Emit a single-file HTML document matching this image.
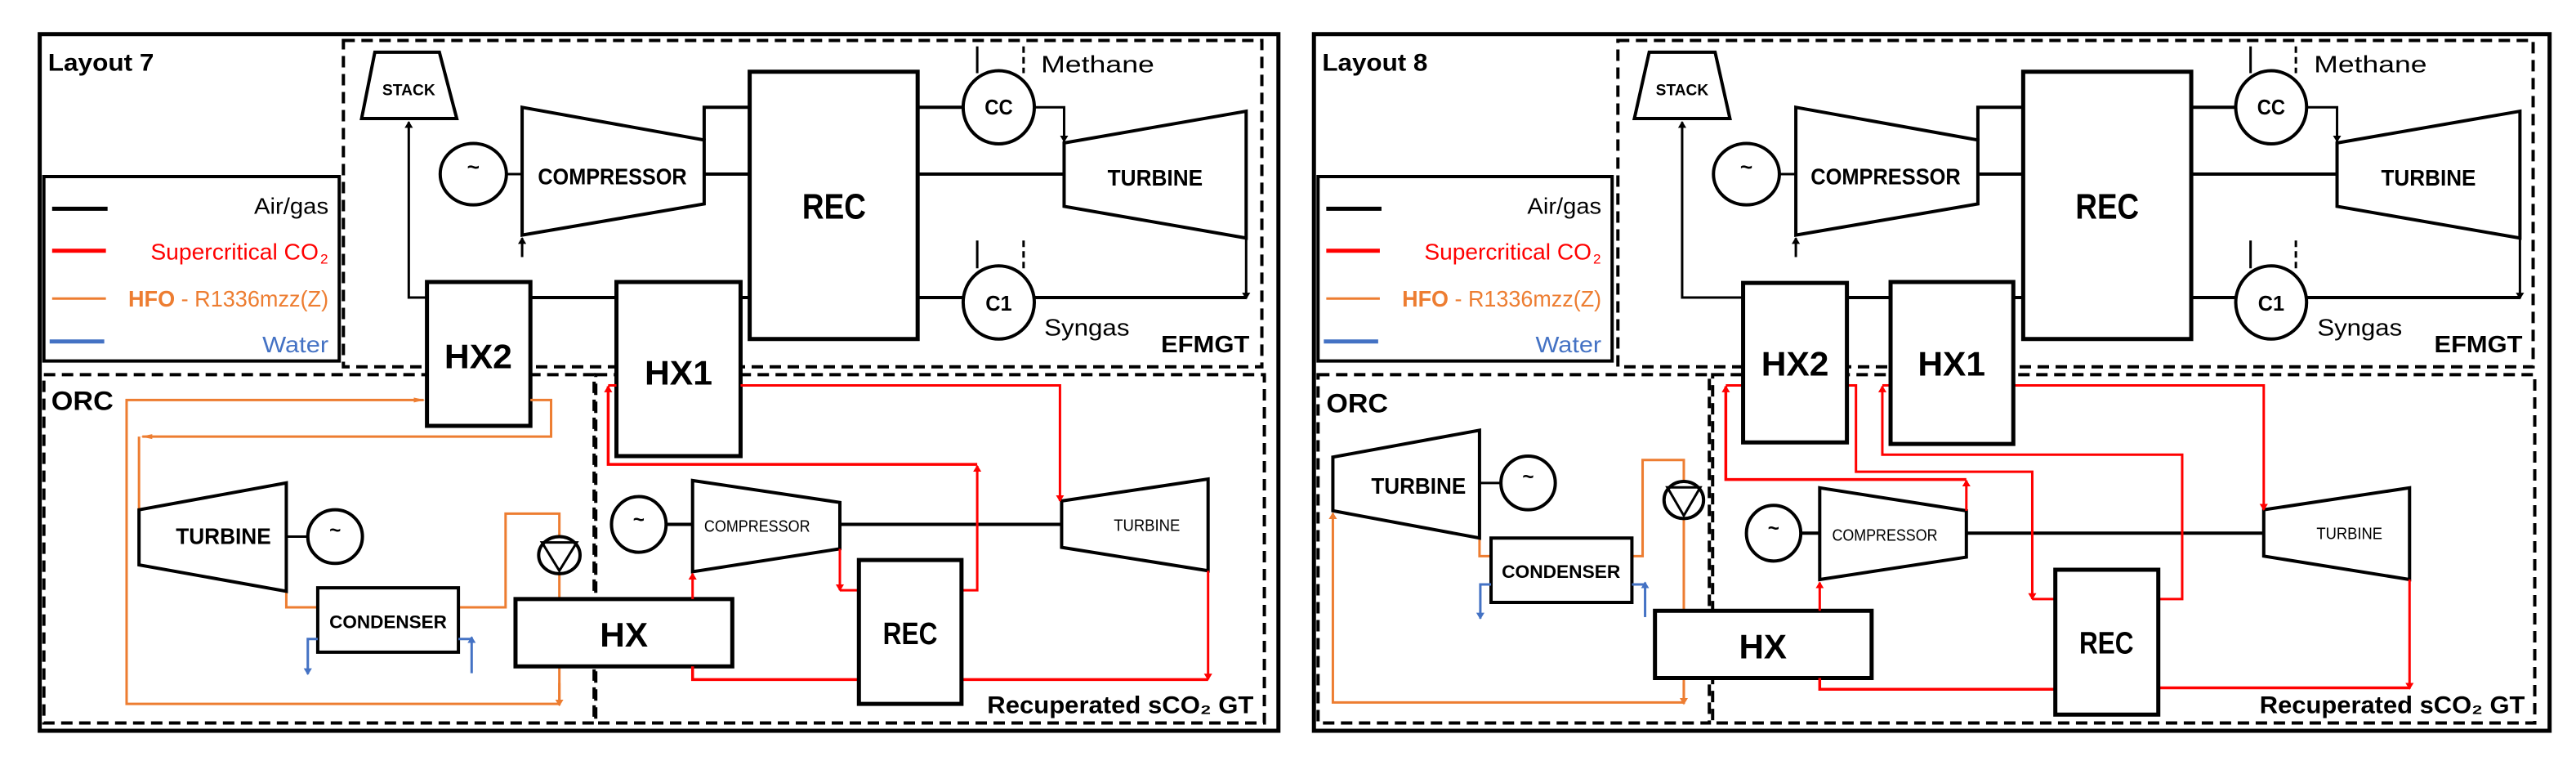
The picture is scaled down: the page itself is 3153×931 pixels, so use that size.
<!DOCTYPE html>
<html><head><meta charset="utf-8"><style>
html,body{margin:0;padding:0;background:#fff;}
svg{display:block;}
text{font-family:"Liberation Sans Narrow","Liberation Sans",sans-serif;}
.b{font-weight:bold;}
</style></head><body>
<svg width="3153" height="931" viewBox="0 0 3153 931" xmlns="http://www.w3.org/2000/svg">
<defs>
<marker id="ak" markerWidth="14" markerHeight="14" refX="12" refY="7" orient="auto" markerUnits="userSpaceOnUse"><path d="M0,2 L14,7 L0,12 z" fill="#000"/></marker>
<marker id="ar" markerWidth="14" markerHeight="14" refX="12" refY="7" orient="auto" markerUnits="userSpaceOnUse"><path d="M0,2 L14,7 L0,12 z" fill="#f00"/></marker>
<marker id="ao" markerWidth="14" markerHeight="14" refX="12" refY="7" orient="auto" markerUnits="userSpaceOnUse"><path d="M0,2 L14,7 L0,12 z" fill="#ed7d31"/></marker>
<marker id="ab" markerWidth="14" markerHeight="14" refX="12" refY="7" orient="auto" markerUnits="userSpaceOnUse"><path d="M0,2 L14,7 L0,12 z" fill="#4472c4"/></marker>
</defs>
<rect width="3153" height="931" fill="#fff"/>

<!-- ================= LEFT PANEL ================= -->
<g transform="scale(1.0128,0.5968)" fill="none" stroke-linejoin="miter">
 <g vector-effect="non-scaling-stroke">
 <rect x="48" y="70" width="1497" height="1428" stroke="#000" stroke-width="5" vector-effect="non-scaling-stroke"/>
 <rect x="415" y="83" width="1110" height="669" stroke="#000" stroke-width="4" stroke-dasharray="14,8" vector-effect="non-scaling-stroke"/>
 <rect x="53" y="768" width="665" height="714" stroke="#000" stroke-width="4" stroke-dasharray="14,8" vector-effect="non-scaling-stroke"/>
 <rect x="720" y="768" width="808" height="714" stroke="#000" stroke-width="4" stroke-dasharray="14,8" vector-effect="non-scaling-stroke"/>
 <rect x="53" y="362" width="357" height="378" fill="#fff" stroke="#000" stroke-width="4" vector-effect="non-scaling-stroke"/>
 <path d="M63,428 H130" stroke="#000" stroke-width="5" vector-effect="non-scaling-stroke"/>
 <path d="M63,514 H128" stroke="#f00" stroke-width="5" vector-effect="non-scaling-stroke"/>
 <path d="M63,612 H128" stroke="#ed7d31" stroke-width="3" vector-effect="non-scaling-stroke"/>
 <path d="M60,700 H126" stroke="#4472c4" stroke-width="5" vector-effect="non-scaling-stroke"/>

 <!-- EFMGT -->
 <polygon points="453,107 531,107 552,243 437,243" stroke="#000" stroke-width="4" vector-effect="non-scaling-stroke"/>
 <path d="M516,610 H494 V250" stroke="#000" stroke-width="3" marker-end="url(#ak)" vector-effect="non-scaling-stroke"/>
 <ellipse cx="572" cy="357" rx="40" ry="63" stroke="#000" stroke-width="4" vector-effect="non-scaling-stroke"/>
 <path d="M612,357 H631" stroke="#000" stroke-width="3" vector-effect="non-scaling-stroke"/>
 <polygon points="631,220 851,287 851,418 631,482" stroke="#000" stroke-width="4" vector-effect="non-scaling-stroke"/>
 <path d="M631,527 V488" stroke="#000" stroke-width="3" marker-end="url(#ak)" vector-effect="non-scaling-stroke"/>
 <path d="M851,287 V220 H906 M851,357 H906" stroke="#000" stroke-width="4" vector-effect="non-scaling-stroke"/>
 <rect x="906" y="147" width="203" height="548" stroke="#000" stroke-width="5" vector-effect="non-scaling-stroke"/>
 <path d="M1109,220 H1165 M1109,357 H1286 M1165,610 H1109 M906,610 H895 M641,610 H745" stroke="#000" stroke-width="4" vector-effect="non-scaling-stroke"/>
 <ellipse cx="1207" cy="220" rx="43" ry="75" stroke="#000" stroke-width="4" vector-effect="non-scaling-stroke"/>
 <path d="M1181,95 V150 M1181,493 V550" stroke="#000" stroke-width="3" vector-effect="non-scaling-stroke"/>
 <path d="M1237,95 V150 M1237,493 V550" stroke="#000" stroke-width="3" stroke-dasharray="8,5" vector-effect="non-scaling-stroke"/>
 <path d="M1250,220 H1286 V290" stroke="#000" stroke-width="3" marker-end="url(#ak)" vector-effect="non-scaling-stroke"/>
 <polygon points="1286,293 1506,228 1506,488 1286,423" stroke="#000" stroke-width="4" vector-effect="non-scaling-stroke"/>
 <path d="M1506,488 V612" stroke="#000" stroke-width="3" marker-end="url(#ak)" vector-effect="non-scaling-stroke"/>
 <path d="M1506,610 H1250" stroke="#000" stroke-width="4" vector-effect="non-scaling-stroke"/>
 <ellipse cx="1207" cy="620" rx="43" ry="75" stroke="#000" stroke-width="4" vector-effect="non-scaling-stroke"/>
 <rect x="516" y="578" width="125" height="295" fill="#fff" stroke="#000" stroke-width="5" vector-effect="non-scaling-stroke"/>
 <rect x="745" y="578" width="150" height="357" fill="#fff" stroke="#000" stroke-width="5" vector-effect="non-scaling-stroke"/>

 <!-- ORC -->
 <path d="M676,1443 H153 V820 H512" stroke="#ed7d31" stroke-width="3" marker-end="url(#ao)" vector-effect="non-scaling-stroke"/>
 <path d="M641,820 H666 V895 H172" stroke="#ed7d31" stroke-width="3" marker-end="url(#ao)" vector-effect="non-scaling-stroke"/>
 <path d="M168,895 V1045" stroke="#ed7d31" stroke-width="3" vector-effect="non-scaling-stroke"/>
 <path d="M346,1212 V1245 H384 M554,1245 H611 V1053 H676 V1100 M676,1175 V1228 M676,1367 V1443" stroke="#ed7d31" stroke-width="3" vector-effect="non-scaling-stroke"/>
 <path d="M676,1400 V1446" stroke="#ed7d31" stroke-width="3" marker-end="url(#ao)" vector-effect="non-scaling-stroke"/>
 <polygon points="168,1045 346,990 346,1212 168,1158" stroke="#000" stroke-width="4" vector-effect="non-scaling-stroke"/>
 <path d="M346,1100 H372" stroke="#000" stroke-width="3" vector-effect="non-scaling-stroke"/>
 <ellipse cx="405" cy="1100" rx="33" ry="55" stroke="#000" stroke-width="4" vector-effect="non-scaling-stroke"/>
 <rect x="384" y="1205" width="170" height="132" stroke="#000" stroke-width="4" vector-effect="non-scaling-stroke"/>
 <ellipse cx="676" cy="1138" rx="25" ry="38" stroke="#000" stroke-width="4" vector-effect="non-scaling-stroke"/>
 <polygon points="655,1112 697,1112 676,1170" stroke="#000" stroke-width="3" vector-effect="non-scaling-stroke"/>
 <path d="M384,1310 H372 V1382" stroke="#4472c4" stroke-width="3" marker-end="url(#ab)" vector-effect="non-scaling-stroke"/>
 <path d="M570,1380 V1306" stroke="#4472c4" stroke-width="3" marker-end="url(#ab)" vector-effect="non-scaling-stroke"/>
 <path d="M570,1310 H554" stroke="#4472c4" stroke-width="3" vector-effect="non-scaling-stroke"/>
 <rect x="623" y="1228" width="262" height="138" fill="#fff" stroke="#000" stroke-width="5" vector-effect="non-scaling-stroke"/>

 <!-- sCO2 -->
 <ellipse cx="772" cy="1075" rx="33" ry="57" stroke="#000" stroke-width="4" vector-effect="non-scaling-stroke"/>
 <path d="M805,1075 H837 M1015,1075 H1283" stroke="#000" stroke-width="4" vector-effect="non-scaling-stroke"/>
 <polygon points="837,985 1015,1030 1015,1125 837,1172" stroke="#000" stroke-width="4" vector-effect="non-scaling-stroke"/>
 <polygon points="1283,1027 1460,982 1460,1170 1283,1122" stroke="#000" stroke-width="4" vector-effect="non-scaling-stroke"/>
 <path d="M837,1228 V1176" stroke="#f00" stroke-width="3" marker-end="url(#ar)" vector-effect="non-scaling-stroke"/>
 <path d="M837,1366 V1393 H1038 M1162,1393 H1460" stroke="#f00" stroke-width="3.5" vector-effect="non-scaling-stroke"/>
 <path d="M1460,1170 V1393" stroke="#f00" stroke-width="3" marker-end="url(#ar)" vector-effect="non-scaling-stroke"/>
 <path d="M1015,1125 V1210" stroke="#f00" stroke-width="3" marker-end="url(#ar)" vector-effect="non-scaling-stroke"/>
 <path d="M1015,1210 H1038" stroke="#f00" stroke-width="3" vector-effect="non-scaling-stroke"/>
 <path d="M1162,1210 H1181 V955" stroke="#f00" stroke-width="3" marker-end="url(#ar)" vector-effect="non-scaling-stroke"/>
 <path d="M1181,952 H735 V792" stroke="#f00" stroke-width="3.5" marker-end="url(#ar)" vector-effect="non-scaling-stroke"/>
 <path d="M735,790 H745" stroke="#f00" stroke-width="3" vector-effect="non-scaling-stroke"/>
 <path d="M895,790 H1281 V1027" stroke="#f00" stroke-width="3" marker-end="url(#ar)" vector-effect="non-scaling-stroke"/>
 <rect x="1038" y="1148" width="124" height="295" fill="#fff" stroke="#000" stroke-width="5" vector-effect="non-scaling-stroke"/>
 </g>

 <g fill="#000" stroke="none">
  <text class="b" transform="translate(58,145) scale(1,1.6756)" font-size="30" textLength="128" lengthAdjust="spacingAndGlyphs">Layout 7</text>
  <text transform="translate(397,438) scale(1,1.6756)" font-size="28" text-anchor="end" textLength="90" lengthAdjust="spacingAndGlyphs">Air/gas</text>
  <text transform="translate(385,532) scale(1,1.6756)" font-size="28" text-anchor="end" fill="#f00" textLength="203" lengthAdjust="spacingAndGlyphs">Supercritical CO</text>
  <text transform="translate(387,540) scale(1,1.6756)" font-size="17" fill="#f00">2</text>
  <text transform="translate(397,628) scale(1,1.6756)" font-size="28" text-anchor="end" fill="#ed7d31" textLength="242" lengthAdjust="spacingAndGlyphs"><tspan font-weight="bold">HFO</tspan> - R1336mzz(Z)</text>
  <text transform="translate(397,722) scale(1,1.6756)" font-size="28" text-anchor="end" fill="#4472c4" textLength="80" lengthAdjust="spacingAndGlyphs">Water</text>
  <text class="b" transform="translate(494,195) scale(1,1.6756)" font-size="19" text-anchor="middle" textLength="64" lengthAdjust="spacingAndGlyphs">STACK</text>
  <text class="b" transform="translate(572,357) scale(1,1.6756)" font-size="26" text-anchor="middle">~</text>
  <text class="b" transform="translate(740,378) scale(1,1.6756)" font-size="28" text-anchor="middle" textLength="180" lengthAdjust="spacingAndGlyphs">COMPRESSOR</text>
  <text class="b" transform="translate(1008,448) scale(1,1.6756)" font-size="44" text-anchor="middle" textLength="77" lengthAdjust="spacingAndGlyphs">REC</text>
  <text class="b" transform="translate(1207,235) scale(1,1.6756)" font-size="26" text-anchor="middle" textLength="34" lengthAdjust="spacingAndGlyphs">CC</text>
  <text class="b" transform="translate(1207,637) scale(1,1.6756)" font-size="26" text-anchor="middle" textLength="32" lengthAdjust="spacingAndGlyphs">C1</text>
  <text transform="translate(1258,148) scale(1,1.6756)" font-size="29" textLength="137" lengthAdjust="spacingAndGlyphs">Methane</text>
  <text class="b" transform="translate(1396,380) scale(1,1.6756)" font-size="28" text-anchor="middle" textLength="115" lengthAdjust="spacingAndGlyphs">TURBINE</text>
  <text transform="translate(1262,688) scale(1,1.6756)" font-size="29" textLength="103" lengthAdjust="spacingAndGlyphs">Syngas</text>
  <text class="b" transform="translate(1403,722) scale(1,1.6756)" font-size="29" textLength="107" lengthAdjust="spacingAndGlyphs">EFMGT</text>
  <text class="b" transform="translate(578,755) scale(1,1.6756)" font-size="42" text-anchor="middle" textLength="82" lengthAdjust="spacingAndGlyphs">HX2</text>
  <text class="b" transform="translate(820,788) scale(1,1.6756)" font-size="42" text-anchor="middle" textLength="82" lengthAdjust="spacingAndGlyphs">HX1</text>
  <text class="b" transform="translate(62,840) scale(1,1.6756)" font-size="32" textLength="75" lengthAdjust="spacingAndGlyphs">ORC</text>
  <text class="b" transform="translate(270,1115) scale(1,1.6756)" font-size="28" text-anchor="middle" textLength="115" lengthAdjust="spacingAndGlyphs">TURBINE</text>
  <text class="b" transform="translate(405,1100) scale(1,1.6756)" font-size="24" text-anchor="middle">~</text>
  <text class="b" transform="translate(469,1288) scale(1,1.6756)" font-size="22" text-anchor="middle" textLength="142" lengthAdjust="spacingAndGlyphs">CONDENSER</text>
  <text class="b" transform="translate(754,1325) scale(1,1.6756)" font-size="42" text-anchor="middle" textLength="58" lengthAdjust="spacingAndGlyphs">HX</text>
  <text class="b" transform="translate(772,1078) scale(1,1.6756)" font-size="24" text-anchor="middle">~</text>
  <text transform="translate(915,1090) scale(1,1.6756)" font-size="20" text-anchor="middle" textLength="128" lengthAdjust="spacingAndGlyphs">COMPRESSOR</text>
  <text transform="translate(1386,1088) scale(1,1.6756)" font-size="20" text-anchor="middle" textLength="80" lengthAdjust="spacingAndGlyphs">TURBINE</text>
  <text class="b" transform="translate(1100,1320) scale(1,1.6756)" font-size="38" text-anchor="middle" textLength="66" lengthAdjust="spacingAndGlyphs">REC</text>
  <text class="b" transform="translate(1515,1462) scale(1,1.6756)" font-size="30" text-anchor="end" textLength="322" lengthAdjust="spacingAndGlyphs">Recuperated sCO₂ GT</text>
 </g>
</g>

<!-- ================= RIGHT PANEL ================= -->
<g transform="translate(1580,0) scale(1.0083,0.5968)" fill="none" stroke-linejoin="miter">
 <rect x="28" y="70" width="1500" height="1428" stroke="#000" stroke-width="5" vector-effect="non-scaling-stroke"/>
 <rect x="397" y="83" width="1111" height="669" stroke="#000" stroke-width="4" stroke-dasharray="14,8" vector-effect="non-scaling-stroke"/>
 <rect x="33" y="768" width="475" height="714" stroke="#000" stroke-width="4" stroke-dasharray="14,8" vector-effect="non-scaling-stroke"/>
 <rect x="512" y="768" width="998" height="714" stroke="#000" stroke-width="4" stroke-dasharray="14,8" vector-effect="non-scaling-stroke"/>
 <rect x="33" y="362" width="357" height="378" fill="#fff" stroke="#000" stroke-width="4" vector-effect="non-scaling-stroke"/>
 <path d="M43,428 H110" stroke="#000" stroke-width="5" vector-effect="non-scaling-stroke"/>
 <path d="M43,514 H108" stroke="#f00" stroke-width="5" vector-effect="non-scaling-stroke"/>
 <path d="M43,612 H108" stroke="#ed7d31" stroke-width="3" vector-effect="non-scaling-stroke"/>
 <path d="M40,700 H106" stroke="#4472c4" stroke-width="5" vector-effect="non-scaling-stroke"/>

 <polygon points="435,107 515,107 533,243 417,243" stroke="#000" stroke-width="4" vector-effect="non-scaling-stroke"/>
 <path d="M549,610 H475 V250" stroke="#000" stroke-width="3" marker-end="url(#ak)" vector-effect="non-scaling-stroke"/>
 <ellipse cx="553" cy="357" rx="40" ry="63" stroke="#000" stroke-width="4" vector-effect="non-scaling-stroke"/>
 <path d="M593,357 H613" stroke="#000" stroke-width="3" vector-effect="non-scaling-stroke"/>
 <polygon points="613,220 834,287 834,418 613,482" stroke="#000" stroke-width="4" vector-effect="non-scaling-stroke"/>
 <path d="M613,527 V488" stroke="#000" stroke-width="3" marker-end="url(#ak)" vector-effect="non-scaling-stroke"/>
 <path d="M834,287 V220 H889 M834,357 H889" stroke="#000" stroke-width="4" vector-effect="non-scaling-stroke"/>
 <rect x="889" y="147" width="204" height="548" stroke="#000" stroke-width="5" vector-effect="non-scaling-stroke"/>
 <path d="M1093,220 H1147 M1093,357 H1270 M1147,610 H1093 M889,610 H877 M675,610 H728" stroke="#000" stroke-width="4" vector-effect="non-scaling-stroke"/>
 <ellipse cx="1190" cy="220" rx="43" ry="75" stroke="#000" stroke-width="4" vector-effect="non-scaling-stroke"/>
 <path d="M1165,95 V150 M1165,493 V550" stroke="#000" stroke-width="3" vector-effect="non-scaling-stroke"/>
 <path d="M1220,95 V150 M1220,493 V550" stroke="#000" stroke-width="3" stroke-dasharray="8,5" vector-effect="non-scaling-stroke"/>
 <path d="M1234,220 H1270 V290" stroke="#000" stroke-width="3" marker-end="url(#ak)" vector-effect="non-scaling-stroke"/>
 <polygon points="1270,293 1492,228 1492,488 1270,423" stroke="#000" stroke-width="4" vector-effect="non-scaling-stroke"/>
 <path d="M1492,488 V612" stroke="#000" stroke-width="3" marker-end="url(#ak)" vector-effect="non-scaling-stroke"/>
 <path d="M1492,610 H1234" stroke="#000" stroke-width="4" vector-effect="non-scaling-stroke"/>
 <ellipse cx="1190" cy="620" rx="43" ry="75" stroke="#000" stroke-width="4" vector-effect="non-scaling-stroke"/>

 <!-- ORC -->
 <path d="M477,1390 V1440 H51 V1052" stroke="#ed7d31" stroke-width="3" marker-end="url(#ao)" vector-effect="non-scaling-stroke"/>
 <path d="M229,1103 V1140 H243 M414,1140 H427 V943 H477 V990 M477,1062 V1252" stroke="#ed7d31" stroke-width="3" vector-effect="non-scaling-stroke"/>
 <path d="M477,1400 V1443" stroke="#ed7d31" stroke-width="3" marker-end="url(#ao)" vector-effect="non-scaling-stroke"/>
 <polygon points="51,937 229,882 229,1103 51,1047" stroke="#000" stroke-width="4" vector-effect="non-scaling-stroke"/>
 <path d="M229,990 H256" stroke="#000" stroke-width="3" vector-effect="non-scaling-stroke"/>
 <ellipse cx="288" cy="990" rx="33" ry="55" stroke="#000" stroke-width="4" vector-effect="non-scaling-stroke"/>
 <rect x="243" y="1103" width="171" height="132" stroke="#000" stroke-width="4" vector-effect="non-scaling-stroke"/>
 <ellipse cx="477" cy="1025" rx="24" ry="38" stroke="#000" stroke-width="4" vector-effect="non-scaling-stroke"/>
 <polygon points="457,999 497,999 477,1057" stroke="#000" stroke-width="3" vector-effect="non-scaling-stroke"/>
 <path d="M243,1198 H230 V1268" stroke="#4472c4" stroke-width="3" marker-end="url(#ab)" vector-effect="non-scaling-stroke"/>
 <path d="M430,1265 V1194" stroke="#4472c4" stroke-width="3" marker-end="url(#ab)" vector-effect="non-scaling-stroke"/>
 <path d="M430,1198 H414" stroke="#4472c4" stroke-width="3" vector-effect="non-scaling-stroke"/>
 <rect x="442" y="1252" width="263" height="138" fill="#fff" stroke="#000" stroke-width="5" vector-effect="non-scaling-stroke"/>

 <!-- sCO2 -->
 <ellipse cx="586" cy="1093" rx="33" ry="57" stroke="#000" stroke-width="4" vector-effect="non-scaling-stroke"/>
 <path d="M619,1093 H642 M820,1093 H1181" stroke="#000" stroke-width="4" vector-effect="non-scaling-stroke"/>
 <polygon points="642,1000 820,1047 820,1142 642,1188" stroke="#000" stroke-width="4" vector-effect="non-scaling-stroke"/>
 <polygon points="1181,1045 1358,1000 1358,1188 1181,1140" stroke="#000" stroke-width="4" vector-effect="non-scaling-stroke"/>
 <path d="M642,1252 V1194" stroke="#f00" stroke-width="3" marker-end="url(#ar)" vector-effect="non-scaling-stroke"/>
 <path d="M642,1390 V1413 H928 M1053,1410 H1358" stroke="#f00" stroke-width="3.5" vector-effect="non-scaling-stroke"/>
 <path d="M1358,1188 V1412" stroke="#f00" stroke-width="3" marker-end="url(#ar)" vector-effect="non-scaling-stroke"/>
 <path d="M820,1047 V985" stroke="#f00" stroke-width="3" marker-end="url(#ar)" vector-effect="non-scaling-stroke"/>
 <path d="M820,983 H528 V792" stroke="#f00" stroke-width="3.5" marker-end="url(#ar)" vector-effect="non-scaling-stroke"/>
 <path d="M528,790 H549" stroke="#f00" stroke-width="3" vector-effect="non-scaling-stroke"/>
 <path d="M675,790 H686 V967 H900 V1228" stroke="#f00" stroke-width="3" marker-end="url(#ar)" vector-effect="non-scaling-stroke"/>
 <path d="M900,1228 H928" stroke="#f00" stroke-width="3" vector-effect="non-scaling-stroke"/>
 <path d="M1053,1228 H1082 V932 H718 V792" stroke="#f00" stroke-width="3" marker-end="url(#ar)" vector-effect="non-scaling-stroke"/>
 <path d="M718,790 H728" stroke="#f00" stroke-width="3" vector-effect="non-scaling-stroke"/>
 <path d="M877,790 H1181 V1045" stroke="#f00" stroke-width="3" marker-end="url(#ar)" vector-effect="non-scaling-stroke"/>
 <rect x="928" y="1168" width="125" height="297" fill="#fff" stroke="#000" stroke-width="5" vector-effect="non-scaling-stroke"/>
 <rect x="549" y="580" width="126" height="327" fill="#fff" stroke="#000" stroke-width="5" vector-effect="non-scaling-stroke"/>
 <rect x="728" y="578" width="149" height="332" fill="#fff" stroke="#000" stroke-width="5" vector-effect="non-scaling-stroke"/>

 <g fill="#000" stroke="none">
  <text class="b" transform="translate(38,145) scale(1,1.6756)" font-size="30" textLength="128" lengthAdjust="spacingAndGlyphs">Layout 8</text>
  <text transform="translate(377,438) scale(1,1.6756)" font-size="28" text-anchor="end" textLength="90" lengthAdjust="spacingAndGlyphs">Air/gas</text>
  <text transform="translate(365,532) scale(1,1.6756)" font-size="28" text-anchor="end" fill="#f00" textLength="203" lengthAdjust="spacingAndGlyphs">Supercritical CO</text>
  <text transform="translate(367,540) scale(1,1.6756)" font-size="17" fill="#f00">2</text>
  <text transform="translate(377,628) scale(1,1.6756)" font-size="28" text-anchor="end" fill="#ed7d31" textLength="242" lengthAdjust="spacingAndGlyphs"><tspan font-weight="bold">HFO</tspan> - R1336mzz(Z)</text>
  <text transform="translate(377,722) scale(1,1.6756)" font-size="28" text-anchor="end" fill="#4472c4" textLength="80" lengthAdjust="spacingAndGlyphs">Water</text>
  <text class="b" transform="translate(475,195) scale(1,1.6756)" font-size="19" text-anchor="middle" textLength="64" lengthAdjust="spacingAndGlyphs">STACK</text>
  <text class="b" transform="translate(553,357) scale(1,1.6756)" font-size="26" text-anchor="middle">~</text>
  <text class="b" transform="translate(722,378) scale(1,1.6756)" font-size="28" text-anchor="middle" textLength="182" lengthAdjust="spacingAndGlyphs">COMPRESSOR</text>
  <text class="b" transform="translate(991,448) scale(1,1.6756)" font-size="44" text-anchor="middle" textLength="77" lengthAdjust="spacingAndGlyphs">REC</text>
  <text class="b" transform="translate(1190,235) scale(1,1.6756)" font-size="26" text-anchor="middle" textLength="34" lengthAdjust="spacingAndGlyphs">CC</text>
  <text class="b" transform="translate(1190,637) scale(1,1.6756)" font-size="26" text-anchor="middle" textLength="32" lengthAdjust="spacingAndGlyphs">C1</text>
  <text transform="translate(1242,148) scale(1,1.6756)" font-size="29" textLength="137" lengthAdjust="spacingAndGlyphs">Methane</text>
  <text class="b" transform="translate(1381,380) scale(1,1.6756)" font-size="28" text-anchor="middle" textLength="115" lengthAdjust="spacingAndGlyphs">TURBINE</text>
  <text transform="translate(1246,688) scale(1,1.6756)" font-size="29" textLength="103" lengthAdjust="spacingAndGlyphs">Syngas</text>
  <text class="b" transform="translate(1388,722) scale(1,1.6756)" font-size="29" textLength="107" lengthAdjust="spacingAndGlyphs">EFMGT</text>
  <text class="b" transform="translate(612,770) scale(1,1.6756)" font-size="42" text-anchor="middle" textLength="82" lengthAdjust="spacingAndGlyphs">HX2</text>
  <text class="b" transform="translate(802,770) scale(1,1.6756)" font-size="42" text-anchor="middle" textLength="82" lengthAdjust="spacingAndGlyphs">HX1</text>
  <text class="b" transform="translate(43,845) scale(1,1.6756)" font-size="32" textLength="75" lengthAdjust="spacingAndGlyphs">ORC</text>
  <text class="b" transform="translate(155,1012) scale(1,1.6756)" font-size="28" text-anchor="middle" textLength="115" lengthAdjust="spacingAndGlyphs">TURBINE</text>
  <text class="b" transform="translate(288,990) scale(1,1.6756)" font-size="24" text-anchor="middle">~</text>
  <text class="b" transform="translate(328,1185) scale(1,1.6756)" font-size="22" text-anchor="middle" textLength="144" lengthAdjust="spacingAndGlyphs">CONDENSER</text>
  <text class="b" transform="translate(573,1350) scale(1,1.6756)" font-size="42" text-anchor="middle" textLength="58" lengthAdjust="spacingAndGlyphs">HX</text>
  <text class="b" transform="translate(586,1096) scale(1,1.6756)" font-size="24" text-anchor="middle">~</text>
  <text transform="translate(721,1108) scale(1,1.6756)" font-size="20" text-anchor="middle" textLength="128" lengthAdjust="spacingAndGlyphs">COMPRESSOR</text>
  <text transform="translate(1285,1105) scale(1,1.6756)" font-size="20" text-anchor="middle" textLength="80" lengthAdjust="spacingAndGlyphs">TURBINE</text>
  <text class="b" transform="translate(990,1340) scale(1,1.6756)" font-size="38" text-anchor="middle" textLength="66" lengthAdjust="spacingAndGlyphs">REC</text>
  <text class="b" transform="translate(1498,1462) scale(1,1.6756)" font-size="30" text-anchor="end" textLength="322" lengthAdjust="spacingAndGlyphs">Recuperated sCO₂ GT</text>
 </g>
</g>
</svg>
</body></html>
